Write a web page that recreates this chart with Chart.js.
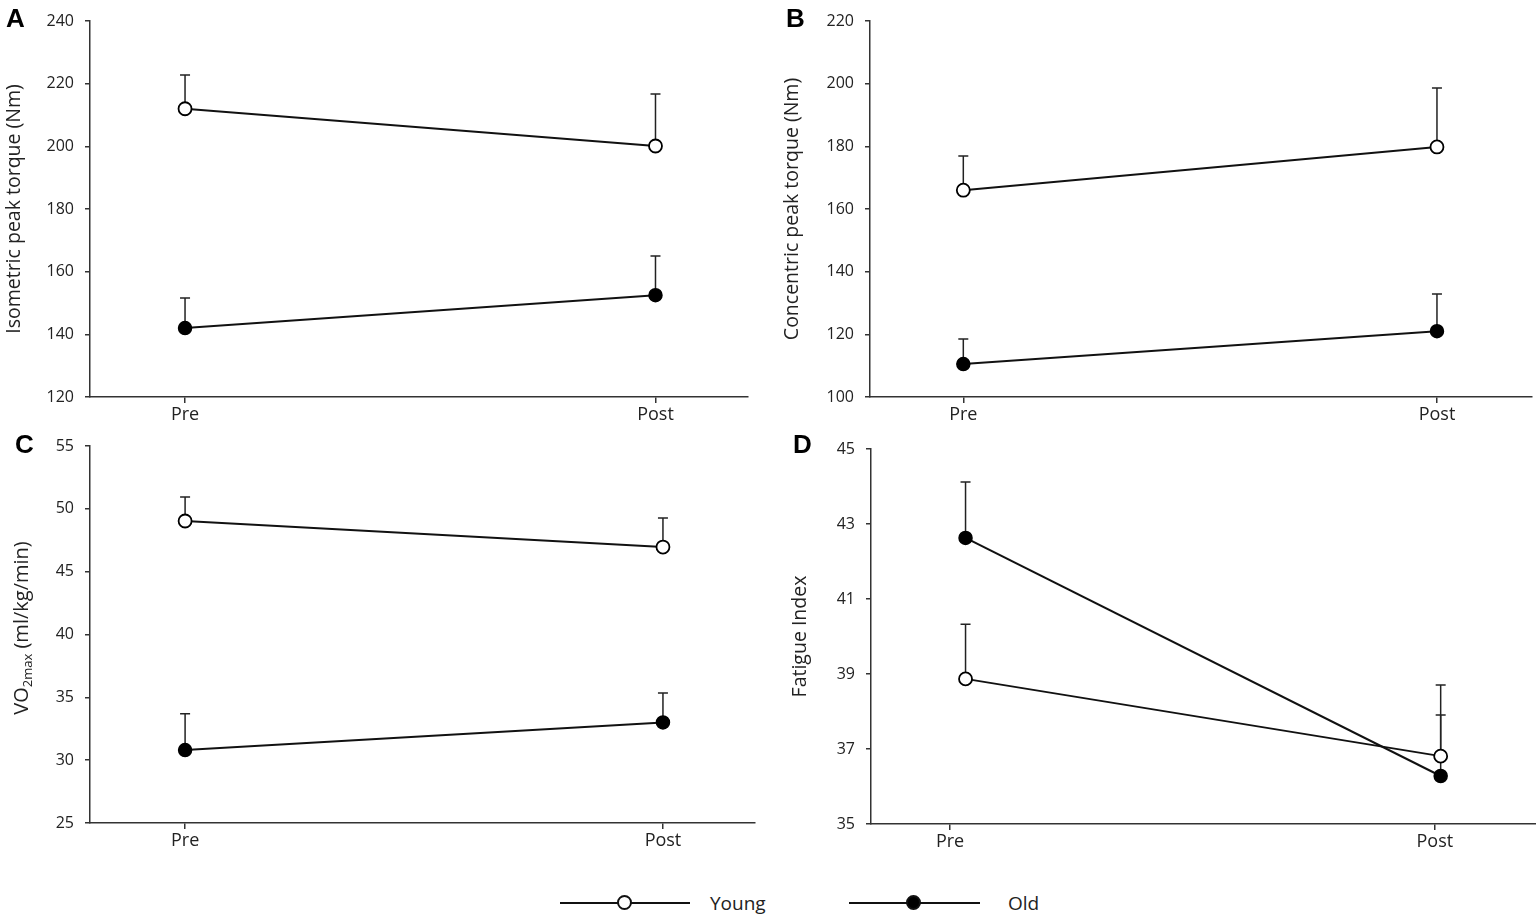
<!DOCTYPE html>
<html>
<head>
<meta charset="utf-8">
<script src="https://cdn.jsdelivr.net/npm/chart.js@4.4.1/dist/chart.umd.min.js"></script>
<style>
  body { margin: 0; background: #fff; width: 1536px; height: 918px; position: relative; overflow: hidden; font-family: 'Open Sans', sans-serif; }
  canvas { position: absolute; }
  .letter { position: absolute; font: bold 26px 'Liberation Sans', Arial, sans-serif; line-height: 26px; color: #000; }
  .lg-line { position: absolute; height: 2px; background: #111; }
  .lg-dot { position: absolute; width: 11px; height: 11px; border: 2px solid #111; border-radius: 50%; }
  .lg-text { position: absolute; font-size: 19px; color: #222; line-height: 20px; }
</style>
</head>
<body>

<canvas id="chartA" width="756" height="440" style="left:0;top:0"></canvas>
<canvas id="chartB" width="780" height="440" style="left:760px;top:0"></canvas>
<canvas id="chartC" width="763" height="440" style="left:0;top:425px"></canvas>
<canvas id="chartD" width="784" height="440" style="left:760px;top:428px"></canvas>

<div class="letter" style="left:6px;top:5px">A</div>
<div class="letter" style="left:786px;top:5px">B</div>
<div class="letter" style="left:15px;top:431px">C</div>
<div class="letter" style="left:793px;top:431px">D</div>

<div class="lg-line" style="left:560px;top:902px;width:130px"></div>
<div class="lg-dot" style="left:617px;top:895px;background:#fff"></div>
<div class="lg-text" style="left:710px;top:893px">Young</div>
<div class="lg-line" style="left:849px;top:902px;width:131px"></div>
<div class="lg-dot" style="left:906px;top:895px;background:#000"></div>
<div class="lg-text" style="left:1008px;top:893px">Old</div>

<script>
const timeLabels = ['Pre', 'Post'];

// A - isometric peak torque (Nm)
const youngA = [212, 200.1];
const youngASd = [10.8, 16.6];
const oldA = [142, 152.5];
const oldASd = [9.6, 12.5];

// B - concentric peak torque (Nm)
const youngB = [166, 179.8];
const youngBSd = [10.9, 18.8];
const oldB = [110.5, 121];
const oldBSd = [8, 11.9];

// C - VO2max
const youngC = [49.03, 46.96];
const youngCSd = [1.91, 2.31];
const oldC = [30.8, 33.0];
const oldCSd = [2.9, 2.35];

// D - fatigue index
const youngD = [38.87, 36.81];
const youngDSd = [1.46, 1.9];
const oldD = [42.63, 36.28];
const oldDSd = [1.49, 1.63];

const axisColor = '#333';
const textColor = '#222';

// upward error bars, drawn under the markers
const errorBarPlugin = {
    id: 'errorBars',
    beforeDatasetsDraw(chart) {
        const {ctx, scales: {y}} = chart;
        ctx.save();
        ctx.strokeStyle = '#222';
        ctx.lineWidth = 1.5;
        chart.data.datasets.forEach((ds, i) => {
            const meta = chart.getDatasetMeta(i);
            meta.data.forEach((pt, j) => {
                const top = y.getPixelForValue(ds.data[j].y + ds.sd[j]);
                ctx.beginPath();
                ctx.moveTo(pt.x, pt.y);
                ctx.lineTo(pt.x, top);
                ctx.moveTo(pt.x - 5, top);
                ctx.lineTo(pt.x + 5, top);
                ctx.stroke();
            });
        });
        ctx.restore();
    }
};

function makeDatasets(young, youngSd, old, oldSd, xPos) {
    return [
        {
            label: 'Old',
            data: old.map((v, i) => ({x: xPos[i], y: v})),
            sd: oldSd,
            borderColor: '#111',
            borderWidth: 2,
            pointBackgroundColor: '#000',
            pointBorderColor: '#000',
            pointBorderWidth: 1.5,
            pointRadius: 6.5
        },
        {
            label: 'Young',
            data: young.map((v, i) => ({x: xPos[i], y: v})),
            sd: youngSd,
            borderColor: '#111',
            borderWidth: 2,
            pointBackgroundColor: '#fff',
            pointBorderColor: '#000',
            pointBorderWidth: 1.8,
            pointRadius: 6.5
        }
    ];
}

function createPanel(id, datasets, opt) {
    const cfg = {
        type: 'line',
        data: {datasets: datasets},
        options: {
            responsive: false,
            animation: false,
            layout: {padding: {top: 21, right: 0}},
            plugins: {legend: {display: false}, tooltip: {enabled: false}},
            scales: {
                x: {
                    type: 'linear',
                    min: opt.xMin,
                    max: opt.xMax,
                    afterBuildTicks: s => { s.ticks = [{value: 0}, {value: 1}]; },
                    afterFit: s => { s.height = opt.xHeight; },
                    ticks: {
                        autoSkip: false,
                        maxRotation: 0,
                        padding: 1,
                        color: textColor,
                        font: {family: 'Open Sans', size: 18},
                        callback: v => timeLabels[v]
                    },
                    grid: {drawOnChartArea: false, tickLength: 6, color: axisColor, lineWidth: 1.5},
                    border: {color: axisColor, width: 1.5}
                },
                y: {
                    min: opt.yMin,
                    max: opt.yMax,
                    afterFit: s => { s.width = opt.yWidth; },
                    ticks: {
                        stepSize: opt.step,
                        padding: 11,
                        color: textColor,
                        font: {family: 'Open Sans', size: 16}
                    },
                    grid: {drawOnChartArea: false, tickLength: 5, color: axisColor, lineWidth: 1.5},
                    border: {color: axisColor, width: 1.5},
                    title: {
                        display: !!opt.title,
                        text: opt.title,
                        color: textColor,
                        font: {family: 'Open Sans', size: 19.5},
                        padding: {top: opt.titlePad, bottom: 0}
                    }
                }
            }
        },
        plugins: [errorBarPlugin].concat(opt.extra || [])
    };
    return new Chart(document.getElementById(id), cfg);
}

// VO2max title with subscript
const vo2TitlePlugin = {
    id: 'vo2Title',
    afterDraw(chart) {
        const ctx = chart.ctx;
        const big = "20px 'Open Sans'";
        const small = "13px 'Open Sans'";
        ctx.save();
        ctx.fillStyle = textColor;
        ctx.translate(22, 203);
        ctx.rotate(-Math.PI / 2);
        ctx.textBaseline = 'middle';
        ctx.font = big;
        const w1 = ctx.measureText('VO').width;
        const w3 = ctx.measureText(' (ml/kg/min)').width;
        ctx.font = small;
        const w2 = ctx.measureText('2max').width;
        let x = -(w1 + w2 + w3) / 2;
        ctx.font = big;
        ctx.fillText('VO', x, 0);
        x += w1;
        ctx.font = small;
        ctx.fillText('2max', x, 6);
        x += w2;
        ctx.font = big;
        ctx.fillText(' (ml/kg/min)', x, 0);
        ctx.restore();
    }
};

createPanel('chartA', makeDatasets(youngA, youngASd, oldA, oldASd, [0, 1]), {
    xMin: -0.202, xMax: 1.196, xHeight: 43, yMin: 120, yMax: 240, step: 20, yWidth: 90,
    title: 'Isometric peak torque (Nm)', titlePad: 3
});
createPanel('chartB', makeDatasets(youngB, youngBSd, oldB, oldBSd, [0, 1]), {
    xMin: -0.197, xMax: 1.2, xHeight: 43, yMin: 100, yMax: 220, step: 20, yWidth: 110,
    title: 'Concentric peak torque (Nm)', titlePad: 21
});
createPanel('chartC', makeDatasets(youngC, youngCSd, oldC, oldCSd, [0, 1]), {
    xMin: -0.199, xMax: 1.192, xHeight: 42, yMin: 25, yMax: 55, step: 5, yWidth: 90,
    title: '', titlePad: 0, extra: [vo2TitlePlugin]
});
createPanel('chartD', makeDatasets(youngD, youngDSd, oldD, oldDSd, [0.032, 1.012]), {
    xMin: -0.163, xMax: 1.208, xHeight: 44, yMin: 35, yMax: 45, step: 2, yWidth: 111,
    title: 'Fatigue Index', titlePad: 29
});
</script>
</body>
</html>
